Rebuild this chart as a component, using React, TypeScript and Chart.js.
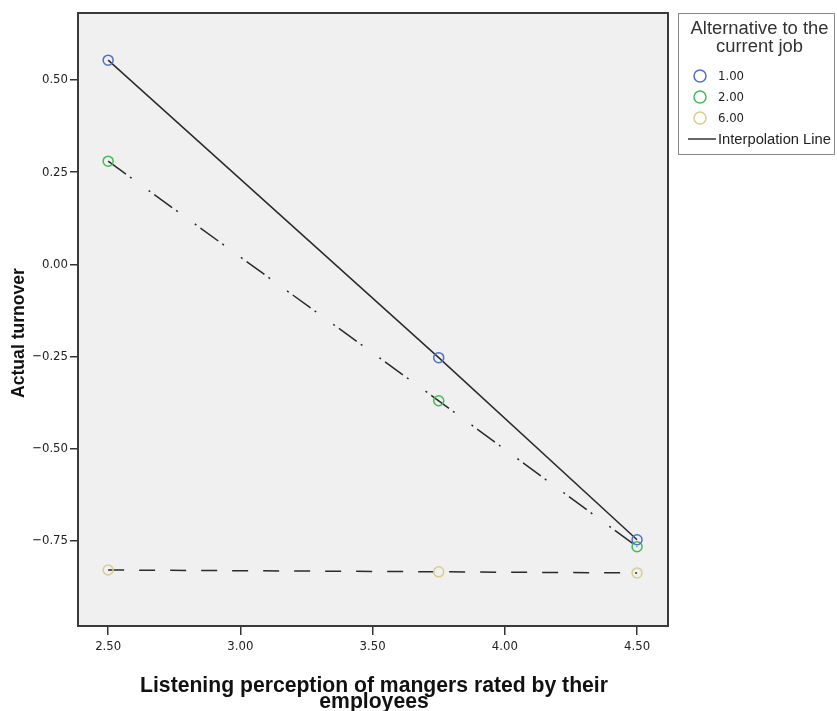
import React, { useEffect, useRef } from "react";
import { Chart, registerables } from "chart.js";

Chart.register(...registerables);

const xValues = [2.5, 3.75, 4.5];
const series1 = [0.554, -0.253, -0.747];
const series2 = [0.28, -0.37, -0.766];
const series6 = [-0.829, -0.834, -0.837];
const seriesLabels = ["1.00", "2.00", "6.00"];
const pointColors = ["#4f6fcc", "#3fbf4f", "#d8cc90"];
const xTicks = [2.5, 3.0, 3.5, 4.0, 4.5];
const yTicks = [-0.75, -0.5, -0.25, 0, 0.25, 0.5];
const xTitle = ["Listening perception of mangers rated by their", "employees"];
const yTitle = "Actual turnover";
const legendTitle = ["Alternative to the", "current job"];
const legendLineLabel = "Interpolation Line";

const tickFont = "'Liberation Sans Narrow', 'Arial Narrow', 'DejaVu Sans Condensed', sans-serif";
const titleFont = "'Liberation Sans', Arial, sans-serif";
const legendFont = "'Liberation Sans', Arial, sans-serif";

function fmt(v: number): string {
  const s = Math.abs(v).toFixed(2);
  return v < 0 ? "\u2212" + s : s;
}

function fitFont(ctx: CanvasRenderingContext2D, text: string, weight: string, family: string, target: number): string {
  ctx.font = `${weight} 20px ${family}`;
  const w = ctx.measureText(text).width;
  const size = (20 * target) / w;
  return `${weight} ${size.toFixed(2)}px ${family}`;
}

const decorPlugin = {
  id: "decor",
  beforeDraw(chart: any) {
    const { ctx, chartArea } = chart;
    ctx.save();
    ctx.fillStyle = "#f0f0f0";
    ctx.fillRect(chartArea.left, chartArea.top, chartArea.right - chartArea.left, chartArea.bottom - chartArea.top);
    ctx.restore();
  },
  afterDraw(chart: any) {
    const { ctx, chartArea } = chart;
    ctx.save();
    // frame
    ctx.strokeStyle = "#3a3a3a";
    ctx.lineWidth = 2;
    ctx.strokeRect(chartArea.left, chartArea.top, chartArea.right - chartArea.left, chartArea.bottom - chartArea.top);

    // y title
    ctx.fillStyle = "#111";
    ctx.font = fitFont(ctx, yTitle, "bold", titleFont, 130);
    ctx.textAlign = "center";
    ctx.textBaseline = "alphabetic";
    ctx.save();
    ctx.translate(24, 333);
    ctx.rotate(-Math.PI / 2);
    ctx.fillText(yTitle, 0, 0);
    ctx.restore();

    // x title
    ctx.font = fitFont(ctx, xTitle[0], "bold", titleFont, 468);
    const cx = (chartArea.left + chartArea.right) / 2 + 1;
    ctx.fillText(xTitle[0], cx, 692);
    ctx.fillText(xTitle[1], cx, 708);

    // legend
    const lx = 678, ly = 13, lw = 156, lh = 141;
    ctx.fillStyle = "#ffffff";
    ctx.fillRect(lx, ly, lw, lh);
    ctx.strokeStyle = "#8a8a8a";
    ctx.lineWidth = 1;
    ctx.strokeRect(lx + 0.5, ly + 0.5, lw, lh);
    ctx.fillStyle = "#333";
    ctx.font = fitFont(ctx, legendTitle[0], "", legendFont, 138);
    ctx.textAlign = "center";
    ctx.textBaseline = "middle";
    ctx.fillText(legendTitle[0], 759.5, 29);
    ctx.fillText(legendTitle[1], 759.5, 47);
    const ys = [76, 97, 118];
    for (let i = 0; i < 3; i++) {
      ctx.beginPath();
      ctx.arc(700, ys[i], 6, 0, Math.PI * 2);
      ctx.strokeStyle = pointColors[i];
      ctx.lineWidth = 1.5;
      ctx.stroke();
      ctx.fillStyle = "#222";
      ctx.font = "13px " + tickFont;
      ctx.textAlign = "left";
      ctx.fillText(seriesLabels[i], 718, ys[i] + 1);
    }
    ctx.beginPath();
    ctx.moveTo(688, 139);
    ctx.lineTo(716, 139);
    ctx.strokeStyle = "#333";
    ctx.lineWidth = 1.5;
    ctx.stroke();
    ctx.fillStyle = "#222";
    ctx.font = fitFont(ctx, legendLineLabel, "", legendFont, 113);
    ctx.textAlign = "left";
    ctx.fillText(legendLineLabel, 718, 140);
    ctx.restore();
  },
};

function toPoints(ys: number[]) {
  return xValues.map((x, i) => ({ x, y: ys[i] }));
}

export default function App() {
  const ref = useRef<HTMLCanvasElement | null>(null);
  useEffect(() => {
    document.body.style.margin = "0";
    if (!ref.current) return;
    const mk = (data: number[], color: string, dash: number[]) => ({
      data: toPoints(data),
      showLine: true,
      borderColor: "#2a2a2a",
      borderWidth: 1.5,
      borderDash: dash,
      pointRadius: 5,
      pointBorderWidth: 1.5,
      pointBorderColor: color,
      pointBackgroundColor: "rgba(0,0,0,0)",
      fill: false,
    });
    const chart = new Chart(ref.current, {
      type: "scatter",
      data: {
        datasets: [
          mk(series1, pointColors[0], []),
          mk(series2, pointColors[1], [22, 5, 2, 21, 2, 5]),
          mk(series6, pointColors[2], [16, 15]),
        ] as any,
      },
      options: {
        animation: false,
        responsive: false,
        devicePixelRatio: 1,
        layout: { padding: { top: 13, right: 169, left: 0, bottom: 0 } },
        plugins: { legend: { display: false }, tooltip: { enabled: false } },
        scales: {
          x: {
            type: "linear",
            min: 2.386,
            max: 4.617,
            afterBuildTicks: (s: any) => {
              s.ticks = xTicks.map((v) => ({ value: v }));
            },
            afterFit: (s: any) => {
              s.height = 85;
            },
            grid: { drawOnChartArea: false, drawTicks: true, tickLength: 9, color: "#333", lineWidth: 1.5 },
            border: { display: true, color: "#3a3a3a", width: 2 },
            ticks: {
              callback: (v: any) => fmt(Number(v)),
              font: { family: tickFont, size: 13 },
              color: "#222",
              padding: 4,
              maxRotation: 0,
              autoSkip: false,
            },
          },
          y: {
            type: "linear",
            min: -0.981,
            max: 0.682,
            afterBuildTicks: (s: any) => {
              s.ticks = yTicks.map((v) => ({ value: v }));
            },
            afterFit: (s: any) => {
              s.width = 78;
            },
            grid: { drawOnChartArea: false, drawTicks: true, tickLength: 8, color: "#333", lineWidth: 1.5 },
            border: { display: true, color: "#3a3a3a", width: 2 },
            ticks: {
              callback: (v: any) => fmt(Number(v)),
              font: { family: tickFont, size: 13 },
              color: "#222",
              padding: 2,
              autoSkip: false,
            },
          },
        },
      },
      plugins: [decorPlugin],
    } as any);
    return () => chart.destroy();
  }, []);
  return <canvas ref={ref} width={837} height={711} style={{ display: "block" }} />;
}
